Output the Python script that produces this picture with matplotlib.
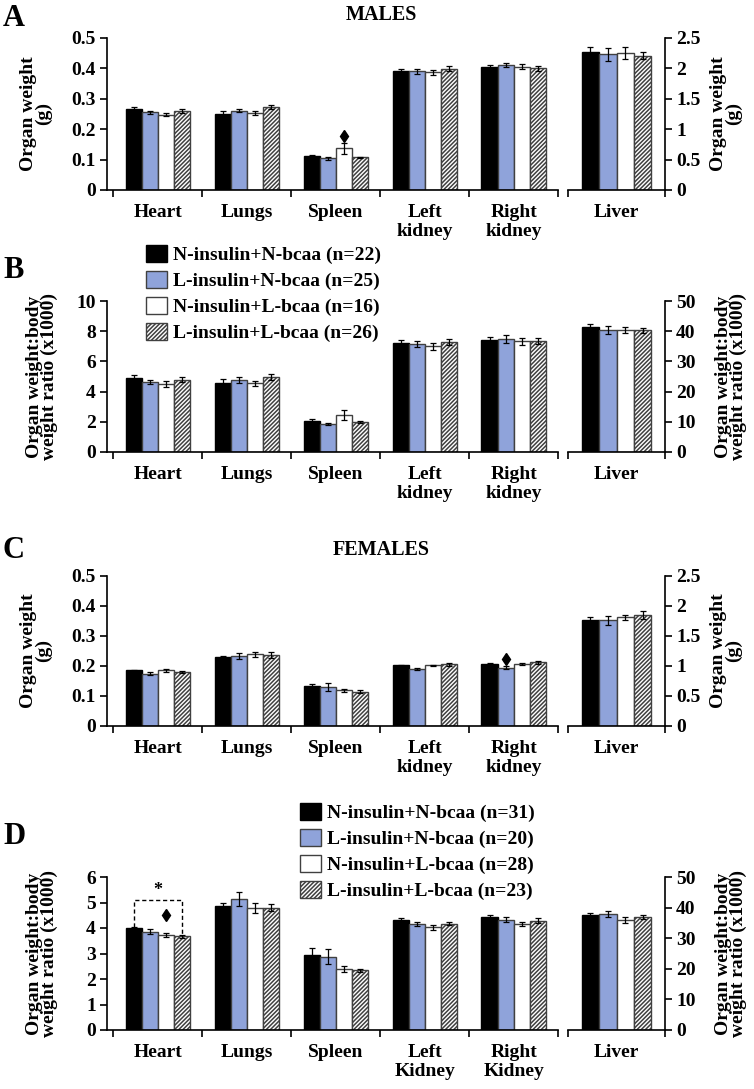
import numpy as np
import matplotlib
matplotlib.use('Agg')
import matplotlib.pyplot as plt
from matplotlib.patches import Patch

# Fonts
#-----------------------------------------------------------------------------#
plt.rcParams['font.family'] = ['Liberation Serif', 'DejaVu Serif']
plt.rcParams['font.weight'] = 'bold'
plt.rcParams['hatch.linewidth'] = 1.1

# Data
#-----------------------------------------------------------------------------#
groups   = ['N-insulin+N-bcaa', 'L-insulin+N-bcaa', 'N-insulin+L-bcaa', 'L-insulin+L-bcaa']
n_male   = [22, 25, 16, 26]
n_female = [31, 20, 28, 23]
organs   = ['Heart', 'Lungs', 'Spleen', 'Left\nkidney', 'Right\nkidney']
organs_D = ['Heart', 'Lungs', 'Spleen', 'Left\nKidney', 'Right\nKidney']
liver    = ['Liver']

# rows: heart, lungs, spleen, left kidney, right kidney, liver; cols: groups
A_mean = [[0.265, 0.255, 0.248, 0.260],
          [0.251, 0.261, 0.253, 0.273],
          [0.111, 0.104, 0.137, 0.108],
          [0.391, 0.390, 0.387, 0.399],
          [0.404, 0.412, 0.405, 0.401],
          [2.27, 2.23, 2.255, 2.21]]
A_err  = [[0.008, 0.006, 0.004, 0.008],
          [0.009, 0.006, 0.006, 0.007],
          [0.004, 0.004, 0.018, 0.002],
          [0.008, 0.008, 0.009, 0.009],
          [0.006, 0.007, 0.008, 0.008],
          [0.08, 0.11, 0.10, 0.06]]
B_mean = [[4.90, 4.65, 4.50, 4.78],
          [4.60, 4.76, 4.54, 4.98],
          [2.08, 1.86, 2.46, 1.98],
          [7.20, 7.15, 7.00, 7.26],
          [7.40, 7.50, 7.32, 7.35],
          [41.5, 40.3, 40.3, 40.3]]
B_err  = [[0.20, 0.15, 0.17, 0.17],
          [0.25, 0.20, 0.15, 0.20],
          [0.10, 0.08, 0.35, 0.05],
          [0.20, 0.22, 0.25, 0.20],
          [0.22, 0.25, 0.25, 0.20],
          [0.8, 1.3, 1.0, 0.8]]
C_mean = [[0.186, 0.175, 0.186, 0.181],
          [0.229, 0.234, 0.239, 0.237],
          [0.133, 0.130, 0.119, 0.115],
          [0.202, 0.190, 0.202, 0.206],
          [0.208, 0.195, 0.207, 0.212],
          [1.77, 1.76, 1.81, 1.85]]
C_err  = [[0.002, 0.004, 0.005, 0.003],
          [0.004, 0.010, 0.008, 0.009],
          [0.008, 0.012, 0.006, 0.005],
          [0.003, 0.004, 0.003, 0.005],
          [0.003, 0.006, 0.003, 0.005],
          [0.05, 0.08, 0.04, 0.07]]
D_mean = [[4.00, 3.85, 3.72, 3.67],
          [4.86, 5.15, 4.80, 4.80],
          [2.93, 2.87, 2.38, 2.35],
          [4.33, 4.17, 4.03, 4.17],
          [4.43, 4.33, 4.15, 4.28],
          [37.5, 38.0, 36.0, 37.0]]
D_err  = [[0.03, 0.10, 0.08, 0.05],
          [0.13, 0.27, 0.20, 0.15],
          [0.27, 0.30, 0.12, 0.06],
          [0.07, 0.08, 0.10, 0.07],
          [0.08, 0.10, 0.08, 0.10],
          [0.8, 1.0, 1.0, 0.7]]

# diamond markers: (organ index, group index, y)
A_diam = [(2, 2, 0.178)]
C_diam = [(4, 1, 0.223)]
D_diam = [(0, 2, 4.50)]

# Styles
#-----------------------------------------------------------------------------#
W, H     = 754, 1089
fcol     = ['#000000', '#8FA3DA', '#FFFFFF', '#FFFFFF']
ecol     = ['#000000', '#404040', '#404040', '#404040']
hatches  = [None, None, None, '////////']
bw       = 0.18
offs     = (np.arange(4) - 1.5) * bw
fs_tick  = 14
fs_lab   = 14

def rect(x0, x1, yt, yb):
    return [x0/W, 1 - yb/H, (x1-x0)/W, (yb-yt)/H]

def draw_bars(ax, means, errs):
    means = np.array(means); errs = np.array(errs)
    x = np.arange(means.shape[0])
    for g in range(4):
        ax.bar(x + offs[g], means[:, g], bw, color=fcol[g], edgecolor=ecol[g],
               hatch=hatches[g], linewidth=1.0, zorder=2)
        ax.errorbar(x + offs[g], means[:, g], yerr=errs[:, g], fmt='none',
                    ecolor='k', elinewidth=0.9, capsize=2, capthick=0.9, zorder=3)

def style_axis(ax, xlim, ncat, labels, yticks, right=False):
    ax.set_xlim(*xlim)
    ax.set_ylim(yticks[0], yticks[-1])
    ax.spines['top'].set_visible(False)
    if right:
        ax.spines['left'].set_visible(False)
        ax.yaxis.tick_right()
    else:
        ax.spines['right'].set_visible(False)
    for s in ax.spines.values():
        s.set_linewidth(1.2)
    ax.set_xticks(np.arange(ncat + 1) - 0.5)
    ax.set_xticklabels([])
    ax.set_xticks(np.arange(ncat), minor=True)
    ax.set_xticklabels(labels, minor=True, fontsize=fs_lab, fontweight='bold', linespacing=1.15)
    ax.tick_params(axis='x', which='major', direction='out', length=5, width=1.2)
    ax.tick_params(axis='x', which='minor', length=0, pad=10)
    ax.set_yticks(yticks)
    ax.set_yticklabels(['%g' % t for t in yticks], fontsize=fs_tick, fontweight='bold')
    ax.tick_params(axis='y', direction='out', length=5, width=1.2, pad=3)

def diamonds(ax, dl):
    for o, g, y in dl:
        ax.plot(o + offs[g], y, marker='d', color='k', markersize=6, zorder=4)

# Panel geometry (pixels)
#-----------------------------------------------------------------------------#
panels = [
    dict(m=A_mean, e=A_err, yt=38,  yb=190,  lt=np.arange(0, 0.51, 0.1), rt=np.arange(0, 2.51, 0.5),
         lab=organs, ylab='Organ weight\n(g)', lx=(36, 726), d=A_diam, letter='A', ly=18, title='MALES', ty=15),
    dict(m=B_mean, e=B_err, yt=301, yb=452,  lt=np.arange(0, 10.1, 2), rt=np.arange(0, 51, 10),
         lab=organs, ylab='Organ weight:body\nweight ratio (x1000)', lx=(42, 731), d=[], letter='B', ly=270, title=None, ty=None),
    dict(m=C_mean, e=C_err, yt=576, yb=726,  lt=np.arange(0, 0.51, 0.1), rt=np.arange(0, 2.51, 0.5),
         lab=organs, ylab='Organ weight\n(g)', lx=(36, 726), d=C_diam, letter='C', ly=550, title='FEMALES', ty=550),
    dict(m=D_mean, e=D_err, yt=877, yb=1030, lt=np.arange(0, 6.1, 1), rt=np.arange(0, 51, 10),
         lab=organs_D, ylab='Organ weight:body\nweight ratio (x1000)', lx=(42, 731), d=D_diam, letter='D', ly=837, title=None, ty=None),
]

fig = plt.figure(figsize=(W/100, H/100), dpi=100)

for p in panels:
    ax  = fig.add_axes(rect(107, 558, p['yt'], p['yb']))
    axl = fig.add_axes(rect(568, 665, p['yt'], p['yb']))
    draw_bars(ax, p['m'][:5], p['e'][:5])
    draw_bars(axl, p['m'][5:], p['e'][5:])
    style_axis(ax, (-0.57, 4.5), 5, p['lab'], p['lt'])
    style_axis(axl, (-0.5, 0.5), 1, liver, p['rt'], right=True)
    diamonds(ax, p['d'])
    ymid = 1 - (p['yt'] + p['yb']) / 2 / H
    for xl in p['lx']:
        fig.text(xl/W, ymid, p['ylab'], fontsize=fs_lab, fontweight='bold', rotation=90,
                 ha='center', va='center', multialignment='center', linespacing=0.85)
    fig.text(3/W, 1 - p['ly']/H, p['letter'], fontsize=22, fontweight='bold',
             ha='left', va='center')
    if p['title']:
        fig.text(381/W, 1 - p['ty']/H, p['title'], fontsize=14.5, fontweight='bold',
                 ha='center', va='center')
    if p['letter'] == 'D':
        # significance bracket heart: N-insulin+N-bcaa vs L-insulin+L-bcaa
        m = np.array(p['m'])
        x0, x1, yb = offs[0], offs[3], 5.1
        ax.plot([x0, x0, x1, x1], [m[0, 0] + 0.03, yb, yb, m[0, 3] + 0.05],
                color='k', linestyle=(0, (3, 2)), linewidth=1.0, zorder=4)
        ax.text(0, yb + 0.03, '*', ha='center', va='bottom', fontsize=13, fontweight='bold')

# Legends
#-----------------------------------------------------------------------------#
def handles():
    return [Patch(facecolor=fcol[g], edgecolor=ecol[g] if g else 'k', hatch=hatches[g], linewidth=1.0)
            for g in range(4)]

leg_kw = dict(frameon=False, handlelength=1.1, handleheight=0.95,
              handletextpad=0.3, labelspacing=0.35, borderaxespad=0, borderpad=0,
              prop={'weight': 'bold', 'size': fs_lab})
fig.legend(handles(), ['%s (n=%d)' % (g, n) for g, n in zip(groups, n_male)],
           loc='upper left', bbox_to_anchor=(146/W, 1 - 245/H), **leg_kw)
fig.legend(handles(), ['%s (n=%d)' % (g, n) for g, n in zip(groups, n_female)],
           loc='upper left', bbox_to_anchor=(300/W, 1 - 803/H), **leg_kw)

fig.savefig('out.png', dpi=100)
